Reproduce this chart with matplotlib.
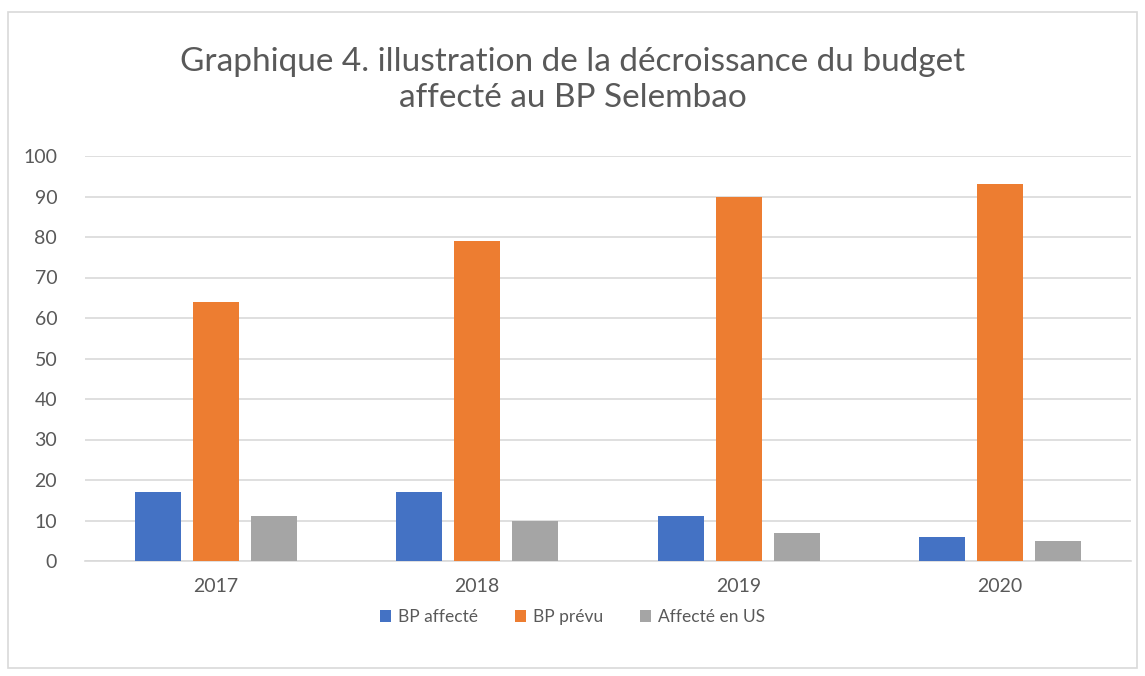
import numpy as np
import matplotlib.pyplot as plt
from matplotlib.patches import Rectangle

# Data
years = ["2017", "2018", "2019", "2020"]
bp_affecte = [17, 17, 11, 6]
bp_prevu = [64, 79, 90, 93]
affecte_us = [11, 10, 7, 5]

series_names = ["BP affecté", "BP prévu", "Affecté en US"]
colors = ["#4472C4", "#ED7D31", "#A5A5A5"]

plt.rcParams['font.family'] = ['Lato', 'DejaVu Sans']

fig = plt.figure(figsize=(11.45, 6.76), dpi=100)
ax = fig.add_axes([85 / 1145, 1 - 561 / 676, 1046 / 1145, 405 / 676])

x = np.arange(len(years))
width = 0.176
step = 0.222
for i, (vals, name, c) in enumerate(zip([bp_affecte, bp_prevu, affecte_us], series_names, colors)):
    ax.bar(x + (i - 1) * step, vals, width, color=c, label=name, zorder=3)

ax.set_xlim(-0.5, len(years) - 0.5)
ax.set_ylim(0, 100)
ax.set_yticks(range(0, 101, 10))
ax.set_xticks(x)
ax.set_xticklabels(years)
ax.grid(axis='y', color='#D9D9D9', linewidth=1.2, zorder=0)
for s in ['top', 'right', 'left']:
    ax.spines[s].set_visible(False)
ax.spines['bottom'].set_color('#D9D9D9')
ax.spines['bottom'].set_linewidth(1.2)
ax.tick_params(axis='both', length=0, labelsize=14, labelcolor='#595959')
ax.tick_params(axis='x', pad=12)
ax.tick_params(axis='y', pad=20)

fig.text(0.5, 1 - 80 / 676, "Graphique 4. illustration de la décroissance du budget\naffecté au BP Selembao",
         ha='center', va='center', fontsize=24, color='#595959', linespacing=1.25)

ax.legend(loc='center', bbox_to_anchor=(0.5, 1 - 617 / 676), bbox_transform=fig.transFigure,
          ncol=3, frameon=False, fontsize=12.5, labelcolor='#595959',
          handlelength=0.65, handleheight=0.65, handletextpad=0.4, columnspacing=2.1)

fig.patches.append(Rectangle((8 / 1145, 1 - 668 / 676), 1129 / 1145, 656 / 676,
                             transform=fig.transFigure, fill=False,
                             edgecolor='#D9D9D9', linewidth=1.2))

fig.savefig("out.png", dpi=100)
